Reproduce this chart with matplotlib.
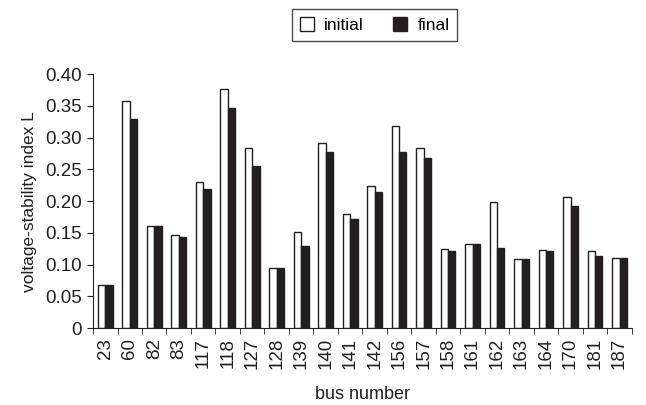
import matplotlib
matplotlib.use("Agg")
import matplotlib.pyplot as plt
import numpy as np

plt.rcParams['font.family'] = ['Liberation Sans', 'DejaVu Sans']

buses = ["23", "60", "82", "83", "117", "118", "127", "128", "139", "140", "141",
         "142", "156", "157", "158", "161", "162", "163", "164", "170", "181", "187"]
initial = [0.068, 0.357, 0.160, 0.147, 0.230, 0.377, 0.283, 0.094, 0.152, 0.291, 0.179,
           0.224, 0.319, 0.284, 0.124, 0.132, 0.198, 0.109, 0.123, 0.206, 0.121, 0.111]
final = [0.068, 0.330, 0.160, 0.144, 0.219, 0.347, 0.256, 0.094, 0.129, 0.278, 0.171,
         0.215, 0.278, 0.268, 0.121, 0.132, 0.126, 0.108, 0.122, 0.193, 0.113, 0.111]

fig = plt.figure(figsize=(6.46, 4.05), dpi=100)
ax = fig.add_axes([0.144, 0.19, 0.834, 0.627])

x = np.arange(len(buses))
w = 0.3
ax.bar(x - w / 2, initial, w, color='white', edgecolor='#231f20', linewidth=1.0, label='initial')
ax.bar(x + w / 2, final, w, color='#231f20', edgecolor='#231f20', linewidth=1.0, label='final')

ax.set_xlim(-0.5, len(buses) - 0.5)
ax.set_ylim(0, 0.40)
ax.set_yticks(np.arange(0, 0.41, 0.05))
ax.set_yticklabels(['0'] + [f'{v:.2f}' for v in np.arange(0.05, 0.41, 0.05)])
ax.set_xticks(x)
ax.set_xticklabels(buses, rotation=90)
ax.set_xticks(np.arange(-0.5, len(buses), 1), minor=True)
ax.tick_params(axis='x', which='major', length=0, pad=7, labelsize=13.5, colors='#231f20')
ax.tick_params(axis='x', which='minor', length=4, direction='out', color='#231f20')
ax.tick_params(axis='y', length=4, direction='out', pad=4, labelsize=13.5, colors='#231f20')

for s in ['top', 'right']:
    ax.spines[s].set_visible(False)
for s in ['left', 'bottom']:
    ax.spines[s].set_color('#231f20')

ax.set_ylabel('voltage-stability index L', fontsize=12.5, color='#231f20', labelpad=6)
ax.set_xlabel('bus number', fontsize=13, color='#231f20', labelpad=12)

leg = fig.legend(loc='center', bbox_to_anchor=(0.58, 0.938), ncol=2, frameon=True,
                 fancybox=False, edgecolor='#231f20', fontsize=12.5, handlelength=0.8,
                 handleheight=0.8, handletextpad=0.6, columnspacing=1.7,
                 borderpad=0.45, borderaxespad=0)
leg.get_frame().set_linewidth(1.0)

fig.savefig('out.png', dpi=100)
